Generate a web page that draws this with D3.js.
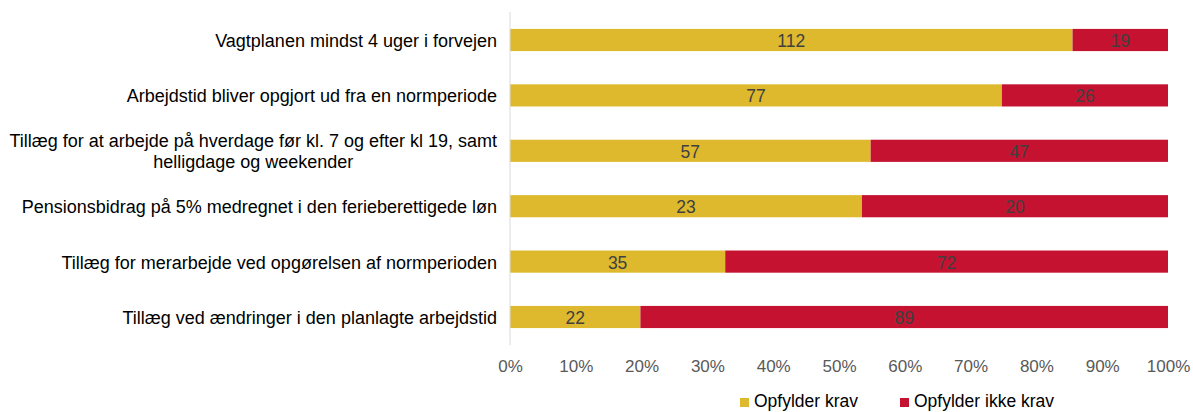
<!DOCTYPE html>
<html><head><meta charset="utf-8">
<script src="https://cdn.jsdelivr.net/npm/d3@7"></script>
<style>body{margin:0;background:#fff;}svg{display:block;font-family:"Liberation Sans",Arial,sans-serif;}</style>
</head><body>
<svg id="c" width="1193" height="412"></svg>
<script>
const categories = [
  ["Vagtplanen mindst 4 uger i forvejen"],
  ["Arbejdstid bliver opgjort ud fra en normperiode"],
  ["Tillæg for at arbejde på hverdage før kl. 7 og efter kl 19, samt", "helligdage og weekender"],
  ["Pensionsbidrag på 5% medregnet i den ferieberettigede løn"],
  ["Tillæg for merarbejde ved opgørelsen af normperioden"],
  ["Tillæg ved ændringer i den planlagte arbejdstid"]
];
const opfylder = [112, 77, 57, 23, 35, 22];
const ikkeOpfylder = [19, 26, 47, 20, 72, 89];
const seriesNames = ["Opfylder krav", "Opfylder ikke krav"];
const colors = ["#DEB92E", "#C41230"];
const tickValues = [0, 0.1, 0.2, 0.3, 0.4, 0.5, 0.6, 0.7, 0.8, 0.9, 1.0];

const svg = d3.select("#c");
const x = d3.scaleLinear().domain([0, 1]).range([510, 1168]);
const y = d3.scaleBand().domain(d3.range(categories.length)).range([12.3, 344.7]).paddingInner(0.6).paddingOuter(0.3);

const rows = categories.map((c, i) => {
  const t = opfylder[i] + ikkeOpfylder[i];
  return {i, vals: [opfylder[i], ikkeOpfylder[i]], shares: [opfylder[i] / t, ikkeOpfylder[i] / t]};
});

rows.forEach(r => {
  let acc = 0;
  r.shares.forEach((s, k) => {
    const x0 = x(acc), x1 = x(acc + s);
    svg.append("rect").attr("x", x0).attr("y", y(r.i)).attr("width", x1 - x0).attr("height", y.bandwidth()).attr("fill", colors[k]);
    svg.append("text").attr("x", (x0 + x1) / 2).attr("y", y(r.i) + y.bandwidth() / 2 + 7)
      .attr("text-anchor", "middle").attr("font-size", 17.5).attr("fill", "#404040").text(r.vals[k]);
    acc += s;
  });
});

// axis line
svg.append("line").attr("x1", x(0)).attr("x2", x(0)).attr("y1", 12).attr("y2", 345).attr("stroke", "#d9d9d9").attr("stroke-width", 1);

// category labels: right-aligned block, multi-line lines centered within block
categories.forEach((lines, i) => {
  const cy = y(i) + y.bandwidth() / 2;
  const lh = 21;
  const g = svg.append("g");
  const texts = lines.map((l, j) => g.append("text").attr("font-size", 18).attr("fill", "#000")
      .attr("y", cy + (j - (lines.length - 1) / 2) * lh + 7).text(l));
  const widths = texts.map(t => t.node().getComputedTextLength());
  const maxW = d3.max(widths);
  const right = 497;
  texts.forEach((t, j) => t.attr("x", right - maxW / 2 - widths[j] / 2));
});

// x ticks
const xAxis = d3.axisBottom(x).tickValues(tickValues).tickFormat(d3.format(".0%")).tickSize(0).tickPadding(0);
const ax = svg.append("g").attr("transform", "translate(0,0)").call(xAxis);
ax.select(".domain").remove();
ax.selectAll("text").attr("font-size", 17).attr("fill", "#595959").attr("font-family", "Liberation Sans, Arial, sans-serif")
  .attr("y", 372).attr("dy", null);

// legend
const lg = svg.append("g");
const legendX = [740, 900];
seriesNames.forEach((n, k) => {
  lg.append("rect").attr("x", legendX[k]).attr("y", 398).attr("width", 9).attr("height", 9).attr("fill", colors[k]);
  lg.append("text").attr("x", legendX[k] + 14).attr("y", 407).attr("font-size", 17.5).attr("fill", "#000").text(n);
});
</script>
</body></html>
